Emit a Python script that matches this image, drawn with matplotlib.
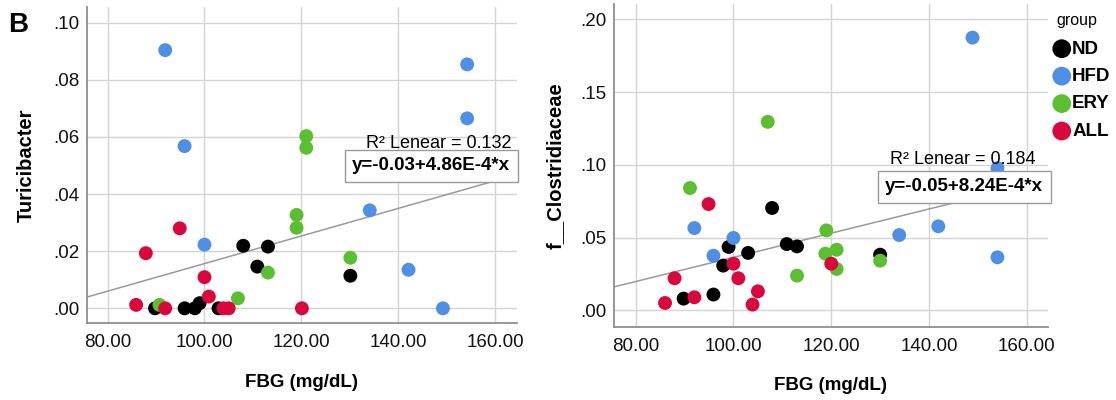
import matplotlib
matplotlib.use("Agg")
import matplotlib.pyplot as plt
import numpy as np
from matplotlib.ticker import FuncFormatter

plt.rcParams['font.family'] = ['Liberation Sans', 'DejaVu Sans']

# groups and colours
groups = ['ND', 'HFD', 'ERY', 'ALL']
colors = {'ND': '#000000', 'HFD': '#4f90e6', 'ERY': '#5bbf31', 'ALL': '#d9073b'}

# FBG (mg/dL) per group (same animals in both panels)
fbg_nd = [89.8, 95.9, 98.0, 99.0, 102.9, 108.0, 110.9, 113.1, 130.1]
fbg_hfd = [91.9, 95.9, 100.0, 134.1, 142.1, 149.2, 154.2, 154.2]
fbg_ery = [90.7, 106.9, 113.1, 119.0, 119.0, 121.0, 121.0, 130.1]
fbg_all = [85.9, 87.9, 91.9, 94.9, 100.0, 100.9, 103.9, 105.0, 120.1]

# Turicibacter abundance
turi_nd = [0.0, 0.0, 0.0, 0.0018, 0.0, 0.0219, 0.0146, 0.0216, 0.0114]
turi_hfd = [0.0904, 0.0568, 0.0223, 0.0343, 0.0135, 0.0, 0.0854, 0.0665]
turi_ery = [0.0012, 0.0035, 0.0125, 0.0327, 0.0282, 0.0603, 0.0562, 0.0177]
turi_all = [0.0012, 0.0193, 0.0, 0.028, 0.0109, 0.0041, 0.0, 0.0, 0.0]

# f__Clostridiaceae abundance (points matched by FBG value)
clos_fbg_nd = [89.8, 95.9, 97.9, 99.0, 103.0, 107.9, 110.9, 113.0, 130.0]
clos_nd = [0.008, 0.0108, 0.0307, 0.0435, 0.0394, 0.0703, 0.0455, 0.0439, 0.0382]
clos_fbg_hfd = [92.0, 95.9, 100.0, 133.9, 141.9, 148.9, 154.0, 154.0]
clos_hfd = [0.0565, 0.0375, 0.0497, 0.0517, 0.0577, 0.1874, 0.0977, 0.0364]
clos_fbg_ery = [91.1, 107.0, 113.0, 118.8, 119.0, 121.1, 121.1, 130.0]
clos_ery = [0.084, 0.1295, 0.0238, 0.0389, 0.0549, 0.0416, 0.0284, 0.0341]
clos_fbg_all = [86.0, 87.95, 92.0, 94.9, 100.0, 101.0, 103.9, 105.0, 120.0]
clos_all = [0.005, 0.022, 0.0089, 0.073, 0.032, 0.022, 0.0039, 0.013, 0.032]

xticks = [80, 100, 120, 140, 160]
left_yticks = [0.0, 0.02, 0.04, 0.06, 0.08, 0.10]
right_yticks = [0.0, 0.05, 0.10, 0.15, 0.20]

W, H = 1116, 400
fig = plt.figure(figsize=(W / 100, H / 100), dpi=100)


def box(l, t, r, b):
    return [l / W, 1 - b / H, (r - l) / W, (b - t) / H]


def fmt(v, pos):
    return f"{v:.2f}".replace("0.", ".", 1)


def style(ax, xlim, ylim, yticks, ylabel):
    ax.set_xlim(*xlim)
    ax.set_ylim(*ylim)
    ax.set_xticks(xticks)
    ax.set_xticklabels([f"{v:.2f}" for v in xticks])
    ax.set_yticks(yticks)
    ax.yaxis.set_major_formatter(FuncFormatter(fmt))
    ax.grid(True, color='#d4d4d4', linewidth=1)
    ax.set_axisbelow(True)
    for s in ['top', 'right']:
        ax.spines[s].set_visible(False)
    for s in ['left', 'bottom']:
        ax.spines[s].set_color('#8f8f8f')
        ax.spines[s].set_linewidth(1.3)
    ax.tick_params(length=0, labelsize=13.5, colors='#111111')
    ax.tick_params(axis='x', pad=8)
    ax.tick_params(axis='y', pad=5)
    ax.set_xlabel('FBG (mg/dL)', fontsize=13.5, fontweight='bold', labelpad=16)
    ax.set_ylabel(ylabel, fontsize=14.5, fontweight='bold')


ax1 = fig.add_axes(box(86.7, 6.7, 516.6, 323.3))
ax2 = fig.add_axes(box(613.7, 4, 1048.3, 326.7))

style(ax1, (75.7, 164.4), (-0.00525, 0.1056), left_yticks, 'Turicibacter')
style(ax2, (75.5, 164.4), (-0.0113, 0.2105), right_yticks, 'f__Clostridiaceae')
# ylabel centres at x = 26 px and 555 px
ax1.yaxis.set_label_coords((26 - 86.7) / (516.6 - 86.7), 0.5)
ax2.yaxis.set_label_coords((555 - 613.7) / (1048.3 - 613.7), 0.5)
ax1.yaxis.label.set_va('center')
ax2.yaxis.label.set_va('center')

left_sets = [(fbg_nd, turi_nd), (fbg_hfd, turi_hfd), (fbg_ery, turi_ery), (fbg_all, turi_all)]
right_sets = [(clos_fbg_nd, clos_nd), (clos_fbg_hfd, clos_hfd), (clos_fbg_ery, clos_ery), (clos_fbg_all, clos_all)]

handles = []
for g, (x, y) in zip(groups, left_sets):
    ax1.scatter(x, y, s=100, color=colors[g], edgecolors='none', zorder=3)
for g, (x, y) in zip(groups, right_sets):
    h = ax2.scatter(x, y, s=100, color=colors[g], edgecolors='none', zorder=3, label=g)
    handles.append(h)

# linear fit lines
for ax, sets in [(ax1, left_sets), (ax2, right_sets)]:
    xs = np.concatenate([np.array(s[0]) for s in sets])
    ys = np.concatenate([np.array(s[1]) for s in sets])
    k, b0 = np.polyfit(xs, ys, 1)
    xl = np.array(ax.get_xlim())
    ax.plot(xl, b0 + k * xl, color='#9a9a9a', linewidth=1.1, zorder=2)

# fit annotations
fig.text(511 / W, 1 - 143 / H, 'R² Lenear = 0.132', fontsize=13, ha='right', va='center', zorder=5)
fig.text(510 / W, 1 - 165.5 / H, 'y=-0.03+4.86E-4*x', fontsize=13.5, fontweight='bold',
         ha='right', va='center', zorder=5,
         bbox=dict(boxstyle='square,pad=0.4', facecolor='white', edgecolor='#9a9a9a', linewidth=1))
fig.text(1036 / W, 1 - 160 / H, 'R² Lenear = 0.184', fontsize=13, ha='right', va='center', zorder=5)
fig.text(1043 / W, 1 - 186.5 / H, 'y=-0.05+8.24E-4*x', fontsize=13.5, fontweight='bold',
         ha='right', va='center', zorder=5,
         bbox=dict(boxstyle='square,pad=0.4', facecolor='white', edgecolor='#9a9a9a', linewidth=1))

leg = fig.legend(handles=handles, labels=groups, title='group', loc='upper left',
                 bbox_to_anchor=(1043 / W, 1 - 13 / H), frameon=False, markerscale=1.35,
                 handletextpad=-0.45, labelspacing=0.55, borderaxespad=0, borderpad=0,
                 prop={'size': 13.5, 'weight': 'bold'}, title_fontsize=11.5)
leg._legend_box.sep = 9

fig.text(18 / W, 1 - 25 / H, 'B', fontsize=20, fontweight='bold', ha='center', va='center')

fig.savefig('out.png', dpi=100)
